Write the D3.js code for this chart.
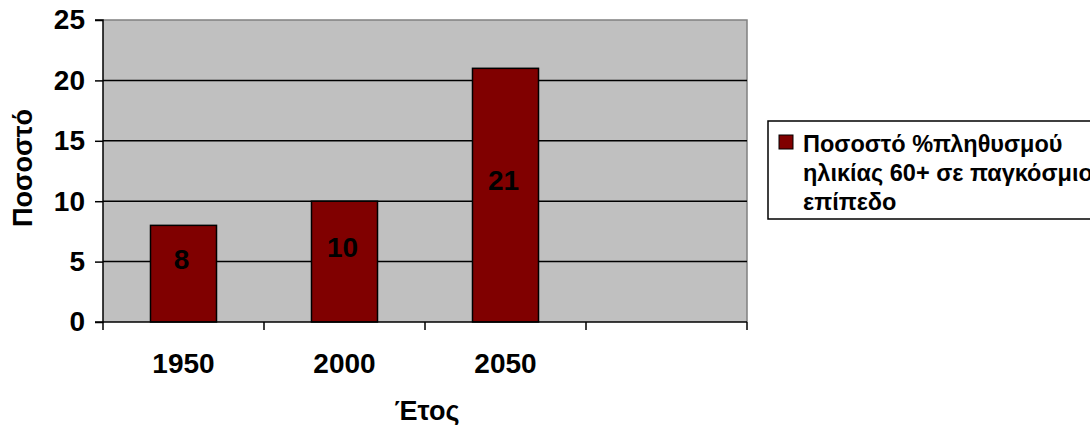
<!DOCTYPE html>
<html>
<head>
<meta charset="utf-8">
<script src="https://cdn.jsdelivr.net/npm/d3@7"></script>
<style>
  html, body { margin: 0; padding: 0; background: #fff; overflow: hidden; }
  svg { display: block; font-family: "Liberation Sans", Arial, sans-serif; font-weight: bold; }
</style>
</head>
<body>
<svg id="chart" width="1090" height="425"></svg>
<script>
// Share of world population aged 60+
const categories = ["1950", "2000", "2050", ""];
const years = ["1950", "2000", "2050"];
const values = [8, 10, 21];
const yTicks = [0, 5, 10, 15, 20, 25];
const seriesName = ["Ποσοστό %πληθυσμού", "ηλικίας 60+ σε παγκόσμιο", "επίπεδο"];
const yTitle = "Ποσοστό";
const xTitle = "Έτος";

const svg = d3.select("#chart");
const plot = { left: 103, right: 747, top: 20, bottom: 322 };

const x = d3.scaleBand().domain(categories).range([plot.left, plot.right]).padding(0);
const y = d3.scaleLinear().domain([0, 25]).range([plot.bottom, plot.top]);
const barW = x.bandwidth() * 0.41;

// plot background
svg.append("rect")
  .attr("x", plot.left).attr("y", plot.top)
  .attr("width", plot.right - plot.left).attr("height", plot.bottom - plot.top)
  .attr("fill", "#c0c0c0");

// top and right frame
svg.append("path")
  .attr("d", `M${plot.left},${plot.top}H${plot.right}V${plot.bottom}`)
  .attr("fill", "none").attr("stroke", "#808080").attr("stroke-width", 1.5);

// horizontal gridlines
svg.append("g").selectAll("line")
  .data(yTicks.filter(t => t > 0 && t < 25))
  .join("line")
  .attr("x1", plot.left).attr("x2", plot.right)
  .attr("y1", d => y(d)).attr("y2", d => y(d))
  .attr("stroke", "#000").attr("stroke-width", 1.5);

// bars
svg.append("g").selectAll("rect")
  .data(years.map((c, i) => ({ c, v: values[i] })))
  .join("rect")
  .attr("x", d => x(d.c) + (x.bandwidth() - barW) / 2)
  .attr("y", d => y(d.v))
  .attr("width", barW)
  .attr("height", d => y(0) - y(d.v))
  .attr("fill", "#800000")
  .attr("stroke", "#000").attr("stroke-width", 1.5);

// value labels
svg.append("g").selectAll("text")
  .data(years.map((c, i) => ({ c, v: values[i] })))
  .join("text")
  .attr("x", d => x(d.c) + x.bandwidth() / 2 - 2)
  .attr("y", d => y(d.v / 2) - 15)
  .attr("dy", "0.36em")
  .attr("text-anchor", "middle")
  .attr("font-size", 28)
  .attr("fill", "#000")
  .text(d => d.v);

// y axis
const yAxis = d3.axisLeft(y).tickValues(yTicks).tickSize(8).tickPadding(10);
const gy = svg.append("g").attr("transform", `translate(${plot.left},0)`).call(yAxis);
gy.select(".domain").attr("stroke", "#000").attr("stroke-width", 1.5).attr("d", `M-8,${plot.top}H0V${plot.bottom}H-8`);
gy.selectAll(".tick line").attr("stroke", "#000").attr("stroke-width", 1.5);
gy.selectAll(".tick text")
  .attr("font-size", 28).attr("font-family", "Liberation Sans, Arial, sans-serif")
  .attr("font-weight", "bold").attr("fill", "#000");

// x axis: ticks at slot boundaries, labels at slot centres
const gx = svg.append("g").attr("transform", `translate(0,${plot.bottom})`);
gx.append("line")
  .attr("x1", plot.left).attr("x2", plot.right)
  .attr("stroke", "#000").attr("stroke-width", 1.5);
const bounds = categories.map(c => x(c)).concat([plot.right]);
gx.selectAll("line.tk").data(bounds).join("line").attr("class", "tk")
  .attr("x1", d => d).attr("x2", d => d).attr("y1", 0).attr("y2", 8)
  .attr("stroke", "#000").attr("stroke-width", 1.5);
gx.selectAll("text").data(categories.filter(c => c)).join("text")
  .attr("x", d => x(d) + x.bandwidth() / 2)
  .attr("y", 51)
  .attr("text-anchor", "middle")
  .attr("font-size", 28)
  .text(d => d);

// axis titles
svg.append("text")
  .attr("transform", `translate(32,168) rotate(-90)`)
  .attr("text-anchor", "middle")
  .attr("font-size", 27)
  .text(yTitle);
svg.append("text")
  .attr("x", 427).attr("y", 420)
  .attr("text-anchor", "middle")
  .attr("font-size", 27)
  .text(xTitle);

// legend (the box runs on past the right edge of the page)
const lg = svg.append("g");
lg.append("rect")
  .attr("x", 768).attr("y", 121).attr("width", 340).attr("height", 98)
  .attr("fill", "#fff").attr("stroke", "#000").attr("stroke-width", 1.5);
lg.append("rect")
  .attr("x", 779).attr("y", 135).attr("width", 14).attr("height", 14)
  .attr("fill", "#800000").attr("stroke", "#000").attr("stroke-width", 1);
lg.append("text")
  .attr("x", 803).attr("y", 152)
  .attr("font-size", 23.5)
  .selectAll("tspan").data(seriesName).join("tspan")
  .attr("x", 803).attr("dy", (d, i) => i === 0 ? 0 : 29)
  .text(d => d);
</script>
</body>
</html>
